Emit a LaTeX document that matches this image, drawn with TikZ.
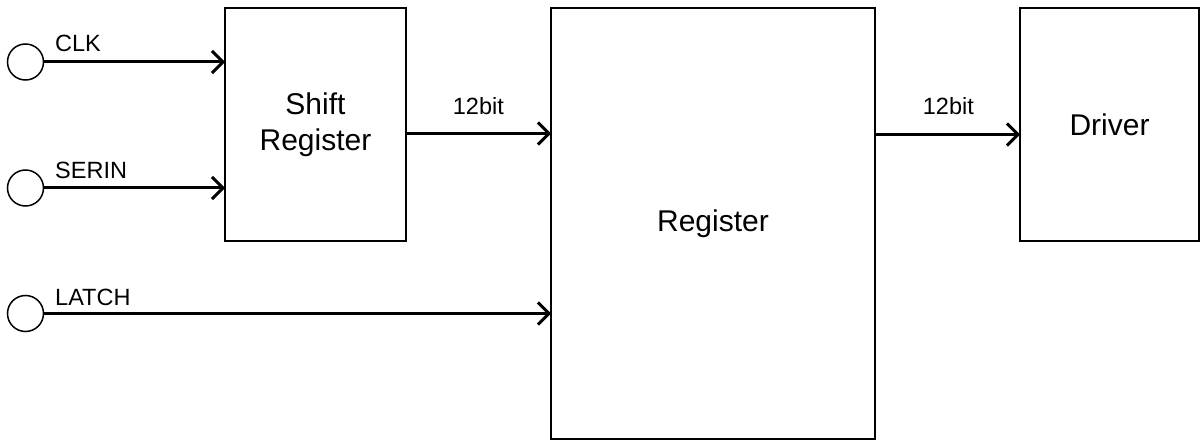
\documentclass[tikz,border=0pt]{standalone}
\usepackage{fontspec}
\setmainfont{Liberation Sans}
\usetikzlibrary{arrows.meta,calc}
\begin{document}
\begin{tikzpicture}[x=1pt,y=-1pt,
  blk/.style={draw,line width=1.5pt,rectangle,inner sep=0pt,outer sep=0pt,align=center,font=\fontsize{30}{36}\selectfont},
  port/.style={draw,circle,line width=1.5pt,minimum size=36pt,inner sep=0pt,outer sep=0pt},
  sig/.style={line width=3pt,-{Straight Barb[length=11pt,width=22pt]}},
  lbl/.style={anchor=base west,inner sep=0pt,font=\fontsize{23.5}{28}\selectfont}]
\useasboundingbox (0,0) rectangle (1200,441);
% blocks
\node[blk,minimum width=181pt,minimum height=233pt] (shift) at (315.5,124.5) {Shift\\Register};
\node[blk,minimum width=324pt,minimum height=431pt] (reg) at (713,223.5) {Register};
\node[blk,minimum width=179pt,minimum height=233pt] (drv) at (1109.5,124.5) {Driver};
% ports
\node[port] (clk) at (25.5,62) {};
\node[port] (serin) at (25.5,188) {};
\node[port] (latch) at (25.5,313.5) {};
% labels
\node[lbl] (lclk) at (55,52) {CLK};
\node[lbl] (lserin) at (55,178.3) {SERIN};
\node[lbl] (llatch) at (55,305) {LATCH};
\node[lbl] (lb1) at (452.7,115) {12bit};
\node[lbl] (lb2) at (922.7,115) {12bit};
% connectors
\draw[sig] (clk.east) -- (clk.east -| shift.west);
\draw[sig] (serin.east) -- (serin.east -| shift.west);
\draw[sig] (latch.east) -- (latch.east -| reg.west);
\coordinate (y1) at (0,133.5);
\coordinate (y2) at (0,134.5);
\draw[sig] (shift.east |- y1) -- (reg.west |- y1);
\draw[sig] (reg.east |- y2) -- (drv.west |- y2);
\end{tikzpicture}
\end{document}
